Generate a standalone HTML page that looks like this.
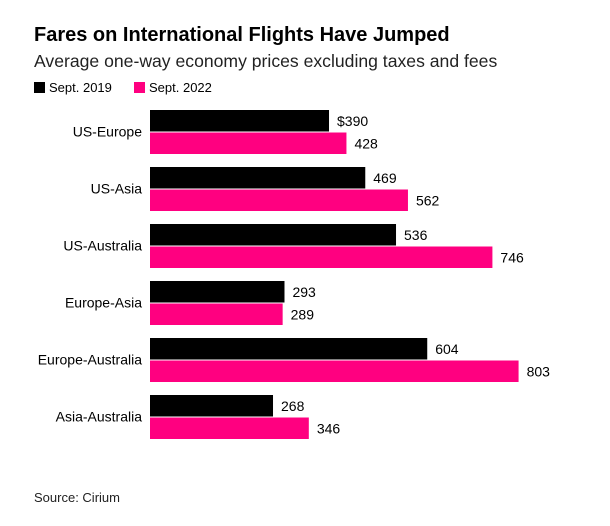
<!DOCTYPE html>
<html><head><meta charset="utf-8"><style>
body{margin:0;background:#fff;width:610px;height:526px;overflow:hidden;font-family:"Liberation Sans",sans-serif;color:#000}
.t{position:absolute;white-space:nowrap}
</style></head><body>
<div class="t" style="left:34px;top:24px;font-size:20px;font-weight:bold">Fares on International Flights Have Jumped</div>
<div class="t" style="left:34px;top:51px;font-size:17.6px;color:#222">Average one-way economy prices excluding taxes and fees</div>
<div class="t" style="left:34px;top:80px;font-size:13px"><span style="display:inline-block;width:11px;height:11px;background:#000;vertical-align:-1px;margin-right:4px"></span>Sept. 2019</div>
<div class="t" style="left:134px;top:80px;font-size:13px"><span style="display:inline-block;width:11px;height:11px;background:#ff0080;vertical-align:-1px;margin-right:4px"></span>Sept. 2022</div>
<svg id="c" width="610" height="526" style="position:absolute;left:0;top:0"></svg>
<div class="t" style="left:34px;top:490px;font-size:13px;color:#222">Source: Cirium</div>
<script>
const categories=["US-Europe","US-Asia","US-Australia","Europe-Asia","Europe-Australia","Asia-Australia"];
const values2019=[390,469,536,293,604,268];
const values2022=[428,562,746,289,803,346];
const svg=document.getElementById('c');
const NS='http://www.w3.org/2000/svg';
const x0=150,k=0.459,top0=110,step=57,bh=21.5;
const x=v=>x0+v*k;
function mk(t,a){const e=document.createElementNS(NS,t);for(const n in a)e.setAttribute(n,a[n]);svg.appendChild(e);return e;}
categories.forEach((c,i)=>{
  const y=top0+i*step;
  const l=mk('text',{x:142,y:y+bh+5,'text-anchor':'end','font-size':14,'font-family':'Liberation Sans, sans-serif'});
  l.textContent=c;
  
  
  [[values2019[i],'#000',0],[values2022[i],'#ff0080',1]].forEach(([v,col,j])=>{
    const yy=y+j*(bh+1);
    const r=mk('rect',{x:x0,y:yy,width:x(v)-x0,height:bh,fill:col});
    
    
    const t=mk('text',{x:x(v)+8,y:yy+bh/2+5,'font-size':14,'font-family':'Liberation Sans, sans-serif'});
    t.textContent=(i===0&&j===0?'$':'')+v;
    
    
  });
});
</script>
</body></html>
